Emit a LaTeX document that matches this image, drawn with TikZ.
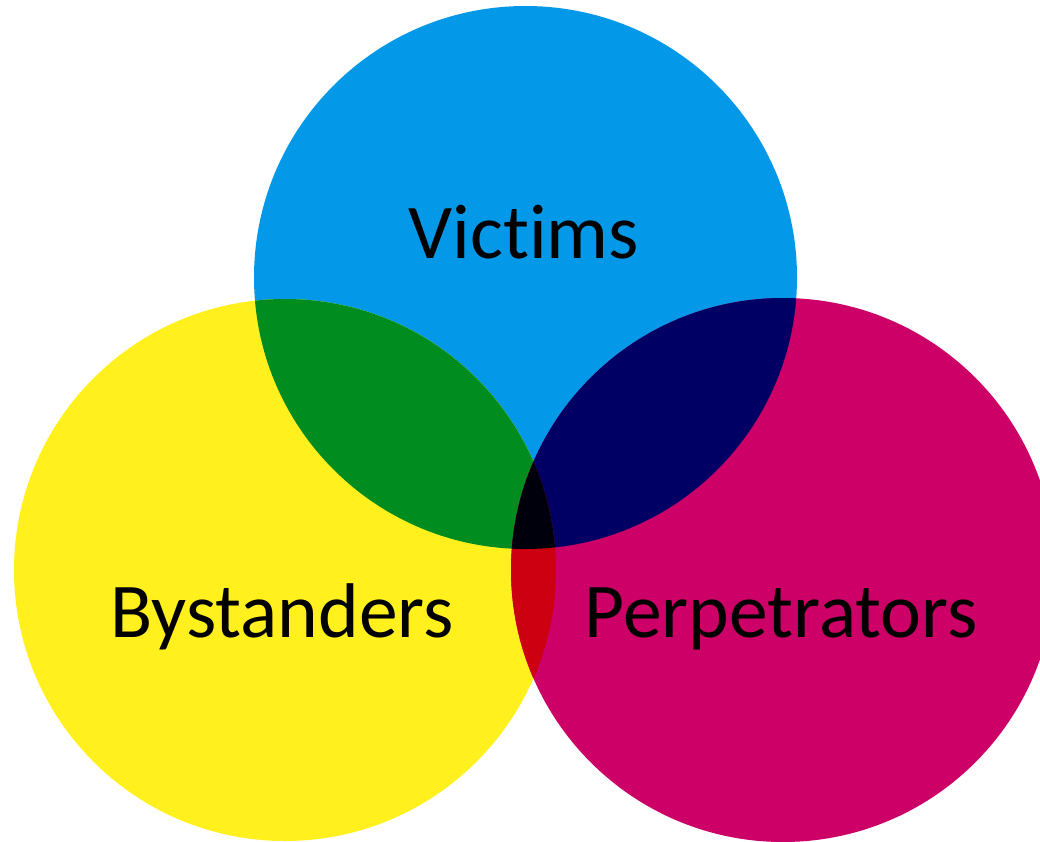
\documentclass[tikz,border=0pt]{standalone}
\usepackage{fontspec}
\setmainfont{Carlito}[Ligatures={NoCommon}]
\definecolor{cblue}{RGB}{4,153,232}
\definecolor{cyellow}{RGB}{255,240,30}
\definecolor{cmagenta}{RGB}{204,0,102}
\definecolor{cgreen}{RGB}{0,140,30}
\definecolor{cnavy}{RGB}{0,0,100}
\definecolor{cred}{RGB}{204,0,16}
\definecolor{cblack}{RGB}{0,0,12}
\begin{document}
\begin{tikzpicture}[x=1pt,y=-1pt,
  lbl/.style={anchor=base,inner sep=0pt,font=\fontsize{77.5}{82}\selectfont,text=black}]
\useasboundingbox (0,0) rectangle (1040,842);
\def\bluec{(525.5,277.5) circle[radius=271.5]}
\def\yelc{(285,570) circle[radius=271]}
\def\magc{(783,570) circle[radius=272]}
\fill[cblue] \bluec;
\fill[cyellow] \yelc;
\fill[cmagenta] \magc;
\begin{scope}
  \clip \bluec;
  \fill[cgreen] \yelc;
  \fill[cnavy] \magc;
\end{scope}
\begin{scope}
  \clip \yelc;
  \fill[cred] \magc;
\end{scope}
\begin{scope}
  \clip \bluec;
  \clip \yelc;
  \fill[cblack] \magc;
\end{scope}
\node[lbl] (victims) at (524,258) {Victims};
\node[lbl] (bystanders) at (282,637) {Bystanders};
\node[lbl] (perpetrators) at (781,637) {Perpetrators};
\end{tikzpicture}
\end{document}
